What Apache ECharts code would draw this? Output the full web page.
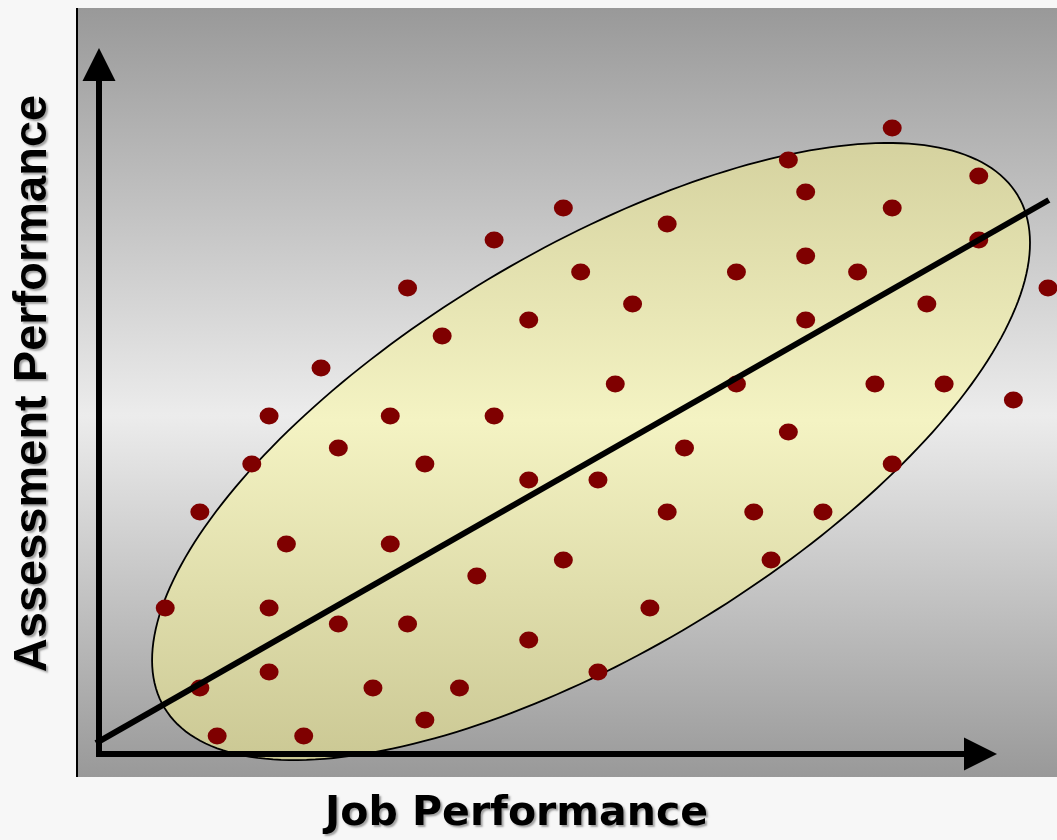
<!DOCTYPE html>
<html>
<head>
<meta charset="utf-8">
<script src="https://cdn.jsdelivr.net/npm/echarts@6/dist/echarts.min.js"></script>
<style>
  html, body { margin: 0; padding: 0; background: #f7f7f7; }
  #chart { width: 1057px; height: 840px; }
</style>
</head>
<body>
<div id="chart"></div>
<script>
// Job performance (x) vs assessment performance (y), arbitrary units
const jobPerf = [46, 40, 51, 41, 27, 46, 33, 23, 51, 41, 28, 37, 44, 18, 55, 31, 48, 25, 41, 20, 13,
  30, 37, 45, 49, 53, 10, 17, 23, 40, 14, 34, 9, 19, 46, 25, 29, 6, 33, 38, 42, 11, 17, 27, 39, 22,
  4, 10, 32, 14, 18, 25, 10, 29, 6, 16, 21, 19, 7, 12];
const assessPerf = [39, 37, 36, 35, 34, 34, 33, 32, 32, 31, 30, 30, 30, 29, 29, 28, 28, 27, 27, 26, 24,
  23, 23, 23, 23, 22, 21, 21, 21, 20, 19, 19, 18, 18, 18, 17, 17, 15, 15, 15, 15, 13, 13, 12, 12, 11,
  9, 9, 9, 8, 8, 7, 5, 5, 4, 4, 4, 2, 1, 1];

// Regression line end points
const trendX = [0, 55.05];
const trendY = [0.55, 34.5];

// Confidence ellipse: centre and two conjugate semi-axis vectors (data units)
const ellipseCenter = [28.6, 18.78];
const ellipseMajor = [24.65, 16.01];
const ellipseMinor = [-5.96, 10.75];

const xTitle = 'Job Performance';
const yTitle = 'Assessment Performance';

const chart = echarts.init(document.getElementById('chart'));

const points = jobPerf.map((x, i) => [x, assessPerf[i]]);
const trend = trendX.map((x, i) => [x, trendY[i]]);

const titleShadow = {
  fontWeight: 'bold',
  color: '#000',
  textShadowColor: 'rgba(0,0,0,0.35)',
  textShadowBlur: 2,
  textShadowOffsetX: 2,
  textShadowOffsetY: 2
};

const hiddenParts = {
  axisLabel: { show: false },
  axisTick: { show: false },
  splitLine: { show: false }
};

chart.setOption({
  animation: false,
  backgroundColor: '#f7f7f7',
  graphic: [
    {
      type: 'rect', z: -10, silent: true,
      shape: { x: 77, y: 8, width: 980, height: 769 },
      style: {
        fill: new echarts.graphic.LinearGradient(0, 0, 0, 1, [
          { offset: 0, color: '#999999' },
          { offset: 0.53, color: '#ececec' },
          { offset: 1, color: '#999999' }
        ])
      }
    },
    {
      type: 'rect', z: -9, silent: true,
      shape: { x: 76, y: 8, width: 2, height: 769 },
      style: { fill: '#000' }
    }
  ],
  grid: [
    { left: 96, right: 9, top: 48, bottom: 88 },
    { left: 99, right: 93, top: 81, bottom: 85 }
  ],
  xAxis: [
    { gridIndex: 0, type: 'value', min: 0, max: 55, show: false },
    Object.assign({
      gridIndex: 1, type: 'value', min: 0, max: 1, z: 10,
      name: xTitle, nameLocation: 'middle', nameGap: 40,
      nameTextStyle: Object.assign({ fontFamily: 'DejaVu Sans', fontSize: 41, padding: [0, 30, 0, 0] }, titleShadow),
      axisLine: {
        show: true, onZero: false,
        symbol: ['none', 'triangle'], symbolSize: [33, 33], symbolOffset: [0, 16.5],
        lineStyle: { color: '#000', width: 6, cap: 'square' }
      }
    }, hiddenParts)
  ],
  yAxis: [
    { gridIndex: 0, type: 'value', min: 0, max: 44, show: false },
    Object.assign({
      gridIndex: 1, type: 'value', min: 0, max: 1, z: 10,
      name: yTitle, nameLocation: 'middle', nameGap: 42, nameRotate: 90,
      nameTextStyle: Object.assign({ fontFamily: 'Liberation Sans', fontSize: 47, padding: [0, 0, 0, 68] }, titleShadow),
      axisLine: {
        show: true, onZero: false,
        symbol: ['none', 'triangle'], symbolSize: [33, 33], symbolOffset: [0, 16.5],
        lineStyle: { color: '#000', width: 6, cap: 'square' }
      }
    }, hiddenParts)
  ],
  series: [
    {
      type: 'custom',
      xAxisIndex: 0, yAxisIndex: 0,
      clip: false, silent: true, z: 1,
      data: [ellipseCenter],
      renderItem: function (params, api) {
        const pts = [];
        const n = 240;
        for (let i = 0; i < n; i++) {
          const t = (i / n) * Math.PI * 2;
          const c = Math.cos(t), s = Math.sin(t);
          pts.push(api.coord([
            ellipseCenter[0] + ellipseMajor[0] * c + ellipseMinor[0] * s,
            ellipseCenter[1] + ellipseMajor[1] * c + ellipseMinor[1] * s
          ]));
        }
        return {
          type: 'polygon',
          shape: { points: pts },
          style: {
            fill: new echarts.graphic.LinearGradient(0, 0, 0, 1, [
              { offset: 0, color: '#d5d29f' },
              { offset: 0.45, color: '#f4f3c3' },
              { offset: 1, color: '#cbc894' }
            ]),
            stroke: '#000',
            lineWidth: 1.8
          }
        };
      }
    },
    {
      type: 'scatter',
      xAxisIndex: 0, yAxisIndex: 0, z: 2,
      data: points,
      symbol: 'circle',
      symbolSize: [19, 17],
      itemStyle: { color: '#7f0000', opacity: 1 },
      emphasis: { disabled: true },
      silent: true
    },
    {
      type: 'line',
      xAxisIndex: 0, yAxisIndex: 0, z: 3,
      data: trend,
      showSymbol: false,
      symbol: 'none',
      lineStyle: { color: '#000', width: 6 },
      emphasis: { disabled: true },
      silent: true
    }
  ]
});
</script>
</body>
</html>
